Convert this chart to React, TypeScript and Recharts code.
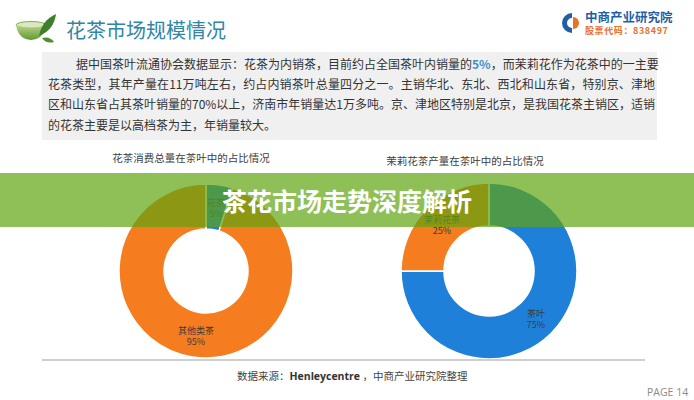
import React from 'react';
import { PieChart, Pie, Cell } from 'recharts';

// left donut: flower tea share of total tea consumption
const flowerCategories = ['花茶', '其他类茶'];
const flowerShares = [5, 95];

// right donut: jasmine tea share of tea output
const jasmineCategories = ['茶叶', '茉莉花茶'];
const jasmineShares = [75, 25];

const sliceColors = ['#1f80d9', '#f57d1f'];

const paragraphLines = [
  '据中国茶叶流通协会数据显示：花茶为内销茶，目前约占全国茶叶内销量的5%，而茉莉花作为花茶中的一主要',
  '花茶类型，其年产量在11万吨左右，约占内销茶叶总量四分之一。主销华北、东北、西北和山东省，特别京、津地',
  '区和山东省占其茶叶销量的70%以上，济南市年销量达1万多吨。京、津地区特别是北京，是我国花茶主销区，适销',
  '的花茶主要是以高档茶为主，年销量较大。',
];

const flowerData = flowerCategories.map((name, i) => ({ name, value: flowerShares[i] }));
const jasmineData = jasmineCategories.map((name, i) => ({ name, value: jasmineShares[i] }));

const CJK = '"Noto Sans CJK SC", "Noto Sans", sans-serif';
const RADIAN = Math.PI / 180;

const renderLabel = (props: any) => {
  const { cx, cy, midAngle, innerRadius, outerRadius } = props;
  const name = props.name ?? props.payload?.name;
  const value = props.value ?? props.payload?.value;
  const r = innerRadius + (outerRadius - innerRadius) / 2;
  const x = cx + r * Math.cos(-midAngle * RADIAN);
  const y = cy + r * Math.sin(-midAngle * RADIAN);
  return (
    <text textAnchor="middle" fill="#3b3b3b" fontSize={9} fontFamily={CJK}>
      <tspan x={x} y={y - 1}>{name}</tspan>
      <tspan x={x} y={y + 10}>{value}%</tspan>
    </text>
  );
};

const TeaCup = () => (
  <svg width={46} height={36} style={{ position: 'absolute', left: 12, top: 8 }}>
    <defs>
      <linearGradient id="bowl" x1="0" y1="0" x2="0" y2="1">
        <stop offset="0%" stopColor="#b9d48a" />
        <stop offset="100%" stopColor="#5f9a32" />
      </linearGradient>
    </defs>
    <ellipse cx={19} cy={17} rx={15} ry={3.5} fill="#d9e8c2" stroke="#7fae4e" strokeWidth={1} />
    <path d="M4 17 Q6 31 19 32 Q32 31 34 17 Q19 22 4 17 Z" fill="url(#bowl)" />
    <path d="M27 28 Q30 12 44 6 Q42 22 27 28 Z" fill="#3f7f2a" />
    <path d="M30 30 Q38 28 42 34 Q34 36 30 30 Z" fill="#4f8f33" />
  </svg>
);

const Logo = () => (
  <div style={{ position: 'absolute', left: 559, top: 10 }}>
    <svg width={22} height={24} style={{ position: 'absolute', left: 0, top: 1 }}>
      <path d="M13 2 A10 10 0 1 0 13 22 L13 17 A5 5 0 1 1 13 7 Z" fill="#1f5fa8" />
      <path d="M14 6 A6 6 0 0 1 14 18 Z" fill="#e8702a" />
    </svg>
    <div style={{ position: 'absolute', left: 26, top: 0, whiteSpace: 'nowrap', fontFamily: CJK, fontWeight: 700, fontSize: 12.5, lineHeight: '14px', color: '#1f5fa8' }}>
      中商产业研究院
    </div>
    <div style={{ position: 'absolute', left: 26, top: 16, whiteSpace: 'nowrap', fontFamily: CJK, fontWeight: 700, fontSize: 9, lineHeight: '10px', color: '#e8702a', letterSpacing: 0.6 }}>
      股票代码：838497
    </div>
  </div>
);

const lineStyle = (top: number, left: number, width: number, justify: boolean): React.CSSProperties => ({
  position: 'absolute',
  top,
  left,
  width,
  fontFamily: CJK,
  fontSize: 12,
  lineHeight: '20px',
  color: '#333',
  whiteSpace: 'nowrap',
  textAlign: justify ? 'justify' : 'left',
  textAlignLast: justify ? 'justify' : 'left',
});

const App = () => {
  const first = paragraphLines[0];
  const idx = first.indexOf('5%');
  return (
    <div style={{ position: 'absolute', left: 0, top: 0, width: 694, height: 400, background: '#fff', overflow: 'hidden' }}>
      <TeaCup />
      <div style={{ position: 'absolute', left: 66, top: 17, fontFamily: CJK, fontSize: 20, lineHeight: '26px', color: '#2f86a6', whiteSpace: 'nowrap' }}>
        花茶市场规模情况
      </div>
      <Logo />

      <div style={{ position: 'absolute', left: 42, top: 52, width: 615, height: 88, background: '#f0f0f0' }} />
      <div style={lineStyle(54, 76, 579, true)}>
        {first.slice(0, idx)}
        <span style={{ color: '#3a8fd0', fontWeight: 700 }}>5%</span>
        {first.slice(idx + 2)}
      </div>
      <div style={lineStyle(74, 48, 607, true)}>{paragraphLines[1]}</div>
      <div style={lineStyle(94, 48, 607, true)}>{paragraphLines[2]}</div>
      <div style={lineStyle(115, 48, 400, false)}>{paragraphLines[3]}</div>

      <div style={{ position: 'absolute', left: 0, top: 0 }}>
        <PieChart width={694} height={400}>
          <text x={191} y={162} textAnchor="middle" fontSize={10.5} fill="#404040" fontFamily={CJK}>
            花茶消费总量在茶叶中的占比情况
          </text>
          <text x={465} y={165} textAnchor="middle" fontSize={10.5} fill="#404040" fontFamily={CJK}>
            茉莉花茶产量在茶叶中的占比情况
          </text>
          <Pie
            data={flowerData}
            dataKey="value"
            nameKey="name"
            cx={201}
            cy={266}
            innerRadius={42}
            outerRadius={87}
            startAngle={90}
            endAngle={-270}
            stroke="#fff"
            strokeWidth={1.5}
            label={renderLabel}
            labelLine={false}
            isAnimationActive={false}
          >
            {flowerData.map((d, i) => (
              <Cell key={d.name} fill={sliceColors[i]} />
            ))}
          </Pie>
          <Pie
            data={jasmineData}
            dataKey="value"
            nameKey="name"
            cx={484}
            cy={266}
            innerRadius={45}
            outerRadius={88}
            startAngle={90}
            endAngle={-270}
            stroke="#fff"
            strokeWidth={1.5}
            label={renderLabel}
            labelLine={false}
            isAnimationActive={false}
          >
            {jasmineData.map((d, i) => (
              <Cell key={d.name} fill={sliceColors[i]} />
            ))}
          </Pie>
        </PieChart>
      </div>

      <div style={{ position: 'absolute', left: 42, top: 359, width: 603, height: 1.5, background: '#cfcfcf' }} />
      <div style={{ position: 'absolute', left: 237, top: 368, fontFamily: CJK, fontSize: 10.5, lineHeight: '16px', color: '#444', whiteSpace: 'nowrap' }}>
        数据来源：<span style={{ fontFamily: '"Open Sans", sans-serif', fontWeight: 700, color: '#333' }}>Henleycentre</span> ，中商产业研究院整理
      </div>
      <div style={{ position: 'absolute', left: 647, top: 384, fontFamily: '"Open Sans", sans-serif', fontSize: 10.5, lineHeight: '16px', color: '#8a8a8a', whiteSpace: 'nowrap' }}>
        PAGE 14
      </div>

      <div style={{ position: 'absolute', left: 0, top: 173, width: 694, height: 54, background: 'rgba(95,164,16,0.7)' }} />
      <div style={{ position: 'absolute', left: 0, top: 173, width: 694, height: 54, display: 'flex', alignItems: 'center', justifyContent: 'center', fontFamily: CJK, fontWeight: 700, fontSize: 25, color: '#fff', whiteSpace: 'nowrap' }}>
        茶花市场走势深度解析
      </div>
    </div>
  );
};

export default App;
